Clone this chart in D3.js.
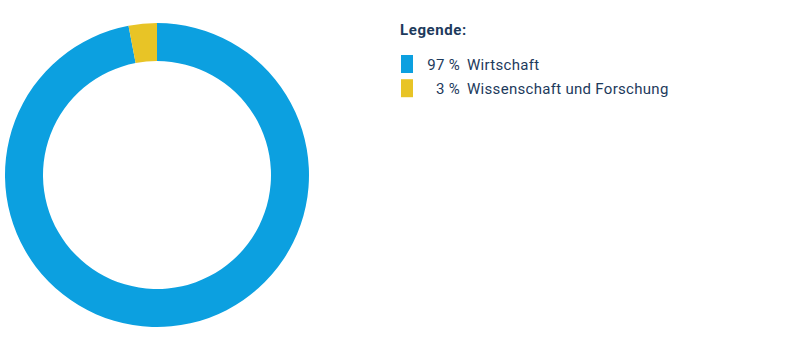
<!DOCTYPE html>
<html>
<head>
<meta charset="utf-8">
<script src="https://cdn.jsdelivr.net/npm/d3@7"></script>
<style>
  body { margin: 0; background: #fff; }
  text { font-family: Roboto, "Open Sans", sans-serif; }
</style>
</head>
<body>
<div class="container"></div>
<script>
// data
const labels = ["Wirtschaft", "Wissenschaft und Forschung"];
const values = [97, 3];
const colors = ["#0ca0e0", "#e8c426"];

const width = 801, height = 351;
const textColor = "#1d3a5c";

const svg = d3.select(".container").append("svg")
    .attr("width", width)
    .attr("height", height);

// donut
const pie = d3.pie().sort(null).value(d => d);
const arc = d3.arc().innerRadius(114).outerRadius(152);

const g = svg.append("g")
    .attr("transform", "translate(157,175)");

g.selectAll("path")
    .data(pie(values))
    .enter()
    .append("path")
    .attr("d", arc)
    .attr("fill", (d, i) => colors[i]);

// legend
const legend = svg.append("g").attr("transform", "translate(400,0)");

legend.append("text")
    .attr("x", 0)
    .attr("y", 35)
    .attr("font-size", "15px")
    .attr("font-weight", "bold")
    .attr("fill", textColor)
    .attr("letter-spacing", "0.6px")
    .text("Legende:");

const rowY = d3.scaleBand().domain(d3.range(labels.length)).range([54, 100]).paddingInner(0.1);

const rows = legend.selectAll("g.row")
    .data(labels)
    .enter()
    .append("g")
    .attr("class", "row")
    .attr("transform", (d, i) => `translate(0,${rowY(i)})`);

rows.append("rect")
    .attr("x", 1)
    .attr("y", 1)
    .attr("width", 12)
    .attr("height", 18)
    .attr("fill", (d, i) => colors[i]);

rows.append("text")
    .attr("x", 60)
    .attr("y", 16)
    .attr("text-anchor", "end")
    .attr("font-size", "15px")
    .attr("letter-spacing", "0.3px")
    .attr("fill", textColor)
    .text((d, i) => values[i] + " %");

rows.append("text")
    .attr("x", 67)
    .attr("y", 16)
    .attr("font-size", "15px")
    .attr("letter-spacing", "0.3px")
    .attr("fill", textColor)
    .text(d => d);
</script>
</body>
</html>
